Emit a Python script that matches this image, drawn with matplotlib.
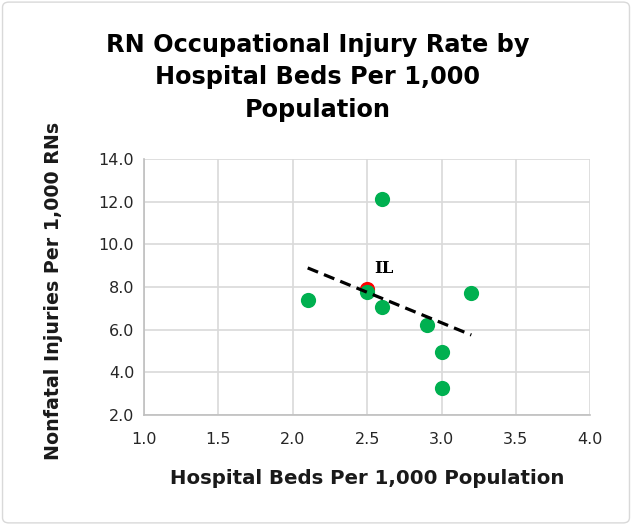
import numpy as np
import matplotlib
matplotlib.use("Agg")
from matplotlib import pyplot as plt
from matplotlib.patches import FancyBboxPatch

# data
beds = [2.1, 2.6, 2.5, 2.6, 2.9, 3.2, 3.0, 3.0]
injuries = [7.4, 12.15, 7.75, 7.05, 6.2, 7.7, 4.95, 3.25]
il_beds = [2.5]
il_injuries = [7.9]
x_ticks = [1.0, 1.5, 2.0, 2.5, 3.0, 3.5, 4.0]
y_ticks = [2.0, 4.0, 6.0, 8.0, 10.0, 12.0, 14.0]

plt.rcParams['font.family'] = ['DejaVu Sans']

fig = plt.figure(figsize=(6.32, 5.25), dpi=100)
fig.patches.append(FancyBboxPatch((0.004, 0.004), 0.992, 0.992, boxstyle="round,pad=0,rounding_size=0.01",
                                  transform=fig.transFigure, fill=False, edgecolor='#D9D9D9', linewidth=1))
ax = fig.add_axes([0.228, 0.2095, 0.706, 0.4875])

# trend line over all points incl. IL
all_x = np.array(beds + il_beds)
all_y = np.array(injuries + il_injuries)
slope, icpt = np.polyfit(all_x, all_y, 1)
tx = np.array([all_x.min(), all_x.max()])
ax.plot(tx, slope * tx + icpt, color='black', linestyle=(0, (3.5, 2)), linewidth=2.3, zorder=4)

ax.scatter(il_beds, il_injuries, s=120, color='#FF0000', zorder=2, linewidths=0)
ax.scatter(beds, injuries, s=120, color='#00B050', zorder=3, linewidths=0)
ax.annotate('IL', (il_beds[0], il_injuries[0]), xytext=(5, 12), textcoords='offset points',
            fontsize=12, fontweight='bold', family='DejaVu Serif', zorder=5)

ax.set_xlim(1.0, 4.0)
ax.set_ylim(2.0, 14.0)
ax.set_xticks(x_ticks)
ax.set_yticks(y_ticks)
ax.set_xticklabels([f'{v:.1f}' for v in x_ticks])
ax.set_yticklabels([f'{v:.1f}' for v in y_ticks])
ax.tick_params(length=0, labelsize=11.5, colors='#262626')
ax.tick_params(axis='x', pad=12)
ax.tick_params(axis='y', pad=7)
ax.grid(True, color='#D9D9D9', linewidth=1.2)
ax.set_axisbelow(True)
for side in ['top', 'right']:
    ax.spines[side].set_visible(False)
for side in ['left', 'bottom']:
    ax.spines[side].set_color('#BFBFBF')
    ax.spines[side].set_linewidth(1.2)

ax.set_xlabel('Hospital Beds Per 1,000 Population', fontsize=14.2, fontweight='bold', color='#1a1a1a', labelpad=16)
ax.set_ylabel('Nonfatal Injuries Per 1,000 RNs', fontsize=13.7, fontweight='bold', color='#1a1a1a')
ax.yaxis.set_label_coords(-0.181, 0.485)
fig.text(0.503, 0.853, 'RN Occupational Injury Rate by\nHospital Beds Per 1,000\nPopulation',
         ha='center', va='center', fontsize=17.3, fontweight='bold', linespacing=1.45)

fig.savefig('out.png', dpi=100)
